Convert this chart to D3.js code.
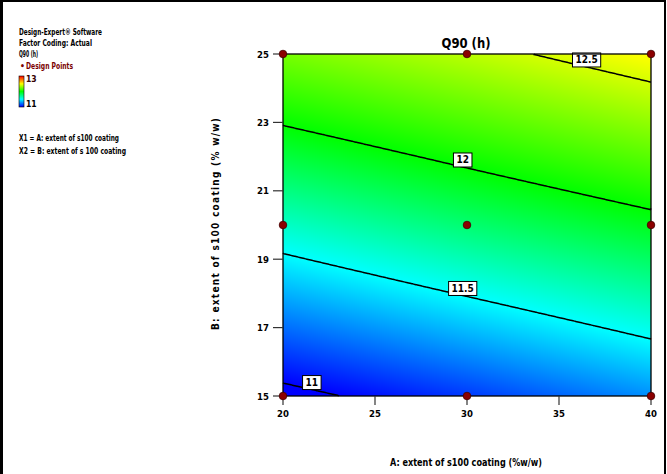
<!DOCTYPE html>
<html><head><meta charset="utf-8">
<script src="https://cdn.jsdelivr.net/npm/d3@7"></script>
<style>
html,body{margin:0;padding:0;background:#fff;}
svg text{font-family:'Liberation Sans Narrow','Arial Narrow','DejaVu Sans Condensed',sans-serif;font-weight:bold;fill:#000;}
</style></head>
<body>
<svg id="c" width="667" height="474"></svg>
<script>
// ---- data ----
const xTicks = [20, 25, 30, 35, 40];
const yTicks = [15, 17, 19, 21, 23, 25];
const gridX = [20, 30, 40];          // A: extent of s100 coating
const gridY = [15, 20, 25];          // B: extent of s100 coating
const q90 = [                         // rows follow gridY, columns follow gridX
  [10.95, 11.11, 11.28],
  [11.61, 11.78, 11.94],
  [12.28, 12.44, 12.61]
];
const contourLevels = [11, 11.5, 12, 12.5];
const contourText = ["11", "11.5", "12", "12.5"];
const colorStops = [11, 11.5, 12, 12.6, 13.2];
const designX = [20, 20, 20, 30, 30, 30, 40, 40, 40];
const designY = [15, 20, 25, 15, 20, 25, 15, 20, 25];
const legendLines = ["Design-Expert\u00ae Software", "Factor Coding: Actual", "Q90 (h)"];
const factorLines = ["X1 = A: extent of s100 coating", "X2 = B: extent of s 100 coating"];
const legendRange = ["13", "11"];

// ---- layout ----
const L = 283, R = 651, T = 54, B = 396;
const labelAt = [21.55, 29.76, 29.76, 36.5];   // x (data) where contour labels sit
const legendW = [83, 73, 19], factorW = [100, 107];

const svg = d3.select("#c");
const x = d3.scaleLinear().domain([20, 40]).range([L, R]);
const y = d3.scaleLinear().domain([15, 25]).range([B, T]);
const color = d3.scaleLinear().domain(colorStops)
  .range(["#0000ff", "#00ffff", "#00ff00", "#ffff00", "#ff0000"]).clamp(true);

function surf(xv, yv) {
  let i = xv <= gridX[1] ? 0 : 1, j = yv <= gridY[1] ? 0 : 1;
  const tx = (xv - gridX[i]) / (gridX[i + 1] - gridX[i]);
  const ty = (yv - gridY[j]) / (gridY[j + 1] - gridY[j]);
  const a = q90[j][i], b = q90[j][i + 1], c = q90[j + 1][i], d = q90[j + 1][i + 1];
  return (a * (1 - tx) + b * tx) * (1 - ty) + (c * (1 - tx) + d * tx) * ty;
}

// outer frame
svg.append("rect").attr("x", 1).attr("y", 1).attr("width", 664).attr("height", 490)
  .attr("fill", "none").attr("stroke", "#000").attr("stroke-width", 2);
svg.append("line").attr("x1", 1.5).attr("x2", 1.5).attr("y1", 0).attr("y2", 474).attr("stroke", "#000").attr("stroke-width", 3);

// colour fill
const W = R - L, H = B - T;
const cv = document.createElement("canvas"); cv.width = W; cv.height = H;
const ctx = cv.getContext("2d"); const img = ctx.createImageData(W, H);
for (let py = 0; py < H; py++) for (let px = 0; px < W; px++) {
  const v = surf(x.invert(L + px + 0.5), y.invert(T + py + 0.5));
  const c = d3.rgb(color(v)); const k = (py * W + px) * 4;
  img.data[k] = c.r; img.data[k + 1] = c.g; img.data[k + 2] = c.b; img.data[k + 3] = 255;
}
ctx.putImageData(img, 0, 0);
svg.append("image").attr("x", L).attr("y", T).attr("width", W).attr("height", H)
  .attr("href", cv.toDataURL());

// contours
const n = 300, m = 300, vals = new Array(n * m);
for (let j = 0; j < m; j++) for (let i = 0; i < n; i++)
  vals[j * n + i] = surf(20 + (i + 0.5) / n * 20, 25 - (j + 0.5) / m * 10);
const cons = d3.contours().size([n, m]).thresholds(contourLevels)(vals);
const toPx = p => [L + p[0] / n * W, T + p[1] / m * H];
const onB = p => p[0] <= 0 || p[0] >= n || p[1] <= 0 || p[1] >= m;
const gC = svg.append("g");
cons.forEach((con, ci) => {
  const segs = [];
  con.coordinates.forEach(poly => poly.forEach(ring => {
    let cur = [];
    for (let k = 0; k < ring.length - 1; k++) {
      const p = ring[k], q = ring[k + 1];
      if (onB(p) && onB(q)) { if (cur.length) segs.push(cur); cur = []; }
      else { if (!cur.length) cur.push(toPx(p)); cur.push(toPx(q)); }
    }
    if (cur.length) segs.push(cur);
  }));
  segs.forEach(s => gC.append("path").attr("d", d3.line()(s))
    .attr("fill", "none").attr("stroke", "#000").attr("stroke-width", 1.5));
  // label
  const tx = x(labelAt[ci]); let best = null;
  segs.forEach(s => s.forEach(p => { if (!best || Math.abs(p[0] - tx) < Math.abs(best[0] - tx)) best = p; }));
  if (best) {
    const g = gC.append("g");
    const t = g.append("text").attr("x", best[0]).attr("y", best[1] - 3.5)
      .attr("text-anchor", "middle").attr("font-size", 10).text(contourText[ci]);
    const w = t.node().getComputedTextLength() + 6;
    g.insert("rect", "text").attr("x", best[0] - w / 2).attr("y", best[1] - 14)
      .attr("width", w).attr("height", 14).attr("fill", "#fff").attr("stroke", "#000").attr("stroke-width", 1);
  }
});

// plot frame
svg.append("rect").attr("x", L).attr("y", T).attr("width", W).attr("height", H)
  .attr("fill", "none").attr("stroke", "#000").attr("stroke-width", 1.3);

// axes
const gx = svg.append("g");
xTicks.forEach(v => {
  gx.append("line").attr("x1", x(v)).attr("x2", x(v)).attr("y1", B).attr("y2", B + 9).attr("stroke", "#333").attr("stroke-width", 1.2);
  gx.append("text").attr("x", x(v)).attr("y", B + 21).attr("text-anchor", "middle").attr("font-size", 9.5).text(v);
});
const gy = svg.append("g");
yTicks.forEach(v => {
  gy.append("line").attr("x1", L - 10).attr("x2", L).attr("y1", y(v)).attr("y2", y(v)).attr("stroke", "#333").attr("stroke-width", 1.2);
  gy.append("text").attr("x", L - 14).attr("y", y(v) + 3.5).attr("text-anchor", "end").attr("font-size", 9.5).text(v);
});

// design points
designX.forEach((dx, i) => svg.append("circle").attr("cx", x(dx)).attr("cy", y(designY[i])).attr("r", 3.8)
  .attr("fill", "#8b0000").attr("stroke", "#400").attr("stroke-width", 0.8));

// titles
svg.append("text").attr("x", 466).attr("y", 48).attr("text-anchor", "middle").attr("font-size", 14)
  .attr("textLength", 49).attr("lengthAdjust", "spacingAndGlyphs").text("Q90 (h)");
svg.append("text").attr("x", 466).attr("y", 466).attr("text-anchor", "middle").attr("font-size", 11)
  .attr("textLength", 152).attr("lengthAdjust", "spacingAndGlyphs")
  .text("A: extent of s100 coating (%w/w)");
svg.append("text").attr("transform", "translate(219,224) rotate(-90)").attr("text-anchor", "middle")
  .attr("font-size", 10).attr("textLength", 212).attr("lengthAdjust", "spacing")
  .text("B: extent of s100 coating (% w/w)");

// legend
legendLines.forEach((s, i) => svg.append("text").attr("x", 19).attr("y", 35 + i * 11).attr("font-size", 8.5)
  .attr("textLength", legendW[i]).attr("lengthAdjust", "spacingAndGlyphs").text(s));
svg.append("text").attr("x", 20).attr("y", 69).attr("font-size", 8.5).style("fill", "#7a0000").text("\u2022");
svg.append("text").attr("x", 26).attr("y", 69).attr("font-size", 8.5).style("fill", "#7a0000")
  .attr("textLength", 47).attr("lengthAdjust", "spacingAndGlyphs").text("Design Points");
const grad = svg.append("defs").append("linearGradient").attr("id", "lg").attr("x1", 0).attr("y1", 1).attr("x2", 0).attr("y2", 0);
colorStops.forEach((v, i) => grad.append("stop").attr("offset", i / (colorStops.length - 1)).attr("stop-color", color(v)));
svg.append("rect").attr("x", 19).attr("y", 76).attr("width", 5).attr("height", 31).attr("fill", "url(#lg)").attr("stroke", "#000").attr("stroke-width", 0.6);
svg.append("text").attr("x", 26).attr("y", 82).attr("font-size", 8.5).style("fill", "#300").text(legendRange[0]);
svg.append("text").attr("x", 26).attr("y", 107).attr("font-size", 8.5).style("fill", "#000").text(legendRange[1]);
factorLines.forEach((s, i) => svg.append("text").attr("x", 19).attr("y", 141 + i * 13).attr("font-size", 8.5)
  .attr("textLength", factorW[i]).attr("lengthAdjust", "spacingAndGlyphs").text(s));
</script>
</body></html>
